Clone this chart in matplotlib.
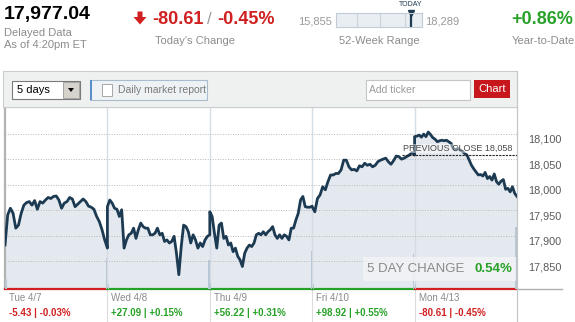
import matplotlib
matplotlib.use('Agg')
import matplotlib.pyplot as plt
import numpy as np
from matplotlib.patches import Rectangle, Polygon

plt.rcParams['font.family'] = ['Liberation Sans', 'DejaVu Sans']

# ---- dados ----
last_price = 17977.04
prev_close = 18058
week52_low = 15855
week52_high = 18289

days = ['Tue 4/7', 'Wed 4/8', 'Thu 4/9', 'Fri 4/10', 'Mon 4/13']
day_change = [-5.43, 27.09, 56.22, 98.92, -80.61]
day_pct = [-0.03, 0.15, 0.31, 0.55, -0.45]

tue = [17882, 17941, 17954, 17944, 17915, 17921, 17944, 17960, 17965, 17967,
       17960, 17969, 17952, 17967, 17964, 17970, 17975, 17973, 17977, 17978,
       17970, 17954, 17964, 17967, 17975, 17972, 17957, 17962, 17967, 17972,
       17967, 17958, 17956, 17952, 17938, 17928, 17912, 17892, 17876]
wed = [17957, 17970, 17964, 17954, 17952, 17938, 17951, 17876, 17892, 17902,
       17905, 17915, 17895, 17912, 17925, 17918, 17915, 17915, 17902, 17902,
       17905, 17915, 17902, 17905, 17889, 17892, 17886, 17889, 17899, 17866,
       17824, 17879, 17921, 17918, 17908, 17886, 17902, 17892, 17876, 17886,
       17879, 17892, 17899, 17902]
thu = [17947, 17938, 17905, 17876, 17921, 17925, 17895, 17899, 17882, 17886,
       17869, 17876, 17860, 17853, 17840, 17866, 17876, 17882, 17879, 17886,
       17902, 17905, 17902, 17908, 17902, 17908, 17912, 17918, 17902, 17895,
       17902, 17895, 17902, 17899, 17892, 17915, 17915, 17931, 17944, 17970,
       17977, 17957, 17956, 17956, 17958]
fri = [17957, 17947, 17973, 17980, 17996, 17990, 18006, 18019, 18019, 18022,
       18022, 18029, 18048, 18048, 18035, 18029, 18030, 18027, 18037, 18035,
       18042, 18038, 18040, 18035, 18038, 18045, 18048, 18050, 18052, 18045,
       18040, 18047, 18056, 18055, 18050, 18052, 18055, 18058, 18063, 18058]
mon = [18094, 18095, 18097, 18093, 18099, 18094, 18103, 18098, 18092, 18089,
       18084, 18086, 18087, 18086, 18087, 18084, 18081, 18071, 18068, 18071,
       18068, 18065, 18061, 18058, 18048, 18038, 18031, 18025, 18019, 18020,
       18017, 18024, 18012, 18016, 18009, 18021, 18006, 18001, 18007, 18010,
       17991, 17993, 17986, 17996, 17983, 17977.04]
sessions = [tue, wed, thu, fri, mon]

# volume (milhoes) na abertura e no fechamento de cada dia
vol_open = [1.0, 0.5, 0.6, 0.5, 0.5]
vol_close = [3.1, 2.9, 3.8, 3.5, 6.2]

y_ticks = [17850, 17900, 17950, 18000, 18050, 18100]

W, H = 575, 322
RED = '#d0201f'
GREEN = '#27a127'
NAVY = '#1c3a52'


def fx(x):
    return x / W


def fy(y):
    return 1 - y / H


def box(x0, y0, x1, y1, **kw):
    fig.patches.append(Rectangle((fx(x0), fy(y1)), fx(x1) - fx(x0), fy(y0) - fy(y1),
                                 transform=fig.transFigure, figure=fig, **kw))


def line(xs, ys, **kw):
    fig.add_artist(plt.Line2D([fx(x) for x in xs], [fy(y) for y in ys],
                              transform=fig.transFigure, **kw))


fig = plt.figure(figsize=(W / 100, H / 100), dpi=100)
fig.patch.set_facecolor('white')

# ---- cabecalho ----
fig.text(fx(4), fy(15), '17,977.04', fontsize=14, fontweight='bold', color='black', va='center')
fig.text(fx(3.5), fy(33), 'Delayed Data', fontsize=8, color='#8c8c8c', va='center')
fig.text(fx(3.5), fy(45.5), 'As of 4:20pm ET', fontsize=8, color='#8c8c8c', va='center')

fig.patches.append(Polygon([(fx(137.5), fy(11.5)), (fx(142.5), fy(11.5)), (fx(142.5), fy(17)),
                            (fx(146.5), fy(17)), (fx(140), fy(24.5)), (fx(133.5), fy(17)),
                            (fx(137.5), fy(17))], closed=True, transform=fig.transFigure,
                           facecolor=RED, edgecolor='none'))
fig.text(fx(152), fy(20), '-80.61', fontsize=13, fontweight='bold', color=RED, va='center')
fig.text(fx(207), fy(20), '/', fontsize=12, color='#999999', va='center')
fig.text(fx(217), fy(20), '-0.45%', fontsize=13, fontweight='bold', color=RED, va='center')
fig.text(fx(155), fy(41), "Today's Change", fontsize=8, color='#8c8c8c', va='center')

fig.text(fx(332), fy(21), f'{week52_low:,}', fontsize=8, color='#9a9a9a', va='center', ha='right')
fig.text(fx(425), fy(21), f'{week52_high:,}', fontsize=8, color='#9a9a9a', va='center')
fig.text(fx(379), fy(41), '52-Week Range', fontsize=8, color='#8c8c8c', va='center', ha='center')

ax52 = fig.add_axes([fx(336), fy(27.3), fx(422) - fx(336), fy(13.3) - fy(27.3)])
ax52.set_xlim(week52_low, week52_high)
ax52.set_ylim(0, 1)
ax52.set_facecolor('#e9eef3')
for s in ax52.spines.values():
    s.set_color('#c2ccd6')
ax52.set_xticks([])
ax52.set_yticks([])
for f in [0.245, 0.515, 0.805]:
    ax52.axvline(week52_low + f * (week52_high - week52_low), color='#c9d1da', lw=0.8)
ax52.plot([last_price, last_price], [0.02, 1.05], color=NAVY, lw=1.6, clip_on=False,
          solid_capstyle='butt')
ax52.plot([last_price], [1.0], marker='v', color=NAVY, markersize=4.5, clip_on=False)
ax52.annotate('TODAY', xy=(last_price, 1), xycoords=('data', 'axes fraction'),
              xytext=(0, 9), textcoords='offset pixels', ha='center', va='center',
              fontsize=5, color=NAVY)

fig.text(fx(511), fy(19.5), '+0.86%', fontsize=13, fontweight='bold', color=GREEN, va='center')
fig.text(fx(512), fy(41), 'Year-to-Date', fontsize=8, color='#8c8c8c', va='center')

# ---- barra de ferramentas ----
box(3, 71, 517, 107, facecolor='#eff1f1', edgecolor='#c9cdcd', lw=0.8)
box(12, 81, 80, 99, facecolor='white', edgecolor='#7a7a7a', lw=0.8)
box(63, 82.5, 79, 97.5, facecolor='#d6d3cc', edgecolor='#9a9a9a', lw=0.6)
fig.patches.append(Polygon([(fx(68), fy(88)), (fx(74), fy(88)), (fx(71), fy(92))], closed=True,
                           transform=fig.transFigure, facecolor='black', edgecolor='none'))
fig.text(fx(17), fy(90), '5 days', fontsize=8, color='black', va='center')

box(90, 80, 207, 100, facecolor='#eef2f5', edgecolor='#a9bccd', lw=0.8)
box(90, 80, 92, 100, facecolor='#5b8fc7', edgecolor='none')
box(102, 84, 112, 96, facecolor='white', edgecolor='#9a9a9a', lw=0.6)
fig.text(fx(118), fy(90), 'Daily market report', fontsize=7.5, color='#7a7a7a', va='center')

box(366, 80, 470, 100, facecolor='white', edgecolor='#c4c4c4', lw=0.8)
fig.text(fx(369), fy(90.5), 'Add ticker', fontsize=7.5, color='#9a9a9a', va='center')
box(474, 80, 510, 98, facecolor='#c8161d', edgecolor='none')
fig.text(fx(492), fy(89), 'Chart', fontsize=8, color='white', va='center', ha='center')

# ---- grafico ----
ax = fig.add_axes([fx(5), fy(289), fx(517) - fx(5), fy(107) - fy(289)])
ymin, ymax = 17796, 18152
ax.set_xlim(0, len(sessions))
ax.set_ylim(ymin, ymax)

xs = np.concatenate([i + np.linspace(0, 1, len(p)) for i, p in enumerate(sessions)])
ps = np.concatenate(sessions)
ax.fill_between(xs, ps, ymin, color='#e4e9ef', lw=0, zorder=1)
ax.plot(xs, ps, color=NAVY, lw=2.0, zorder=3, solid_joinstyle='round')

axv = ax.twinx()
axv.set_ylim(0, 18.2)
axv.bar(np.arange(len(days)) + 0.01, vol_open, width=0.012, color='#b9c6d3', zorder=2)
axv.bar(np.arange(len(days)) + 0.992, vol_close, width=0.014, color='#b9c6d3', zorder=2)
axv.axis('off')

ax.set_yticks(y_ticks)
ax.set_xticks(range(1, len(days)))
ax.set_axisbelow(False)
ax.yaxis.grid(True, linestyle=(0, (1, 1.6)), color='#b8b8b8', lw=0.7)
ax.xaxis.grid(True, linestyle='-', color='#d4dce4', lw=1)
ax.tick_params(length=0, labelleft=False, labelbottom=False, labelright=False)
for side in ['top', 'right', 'left', 'bottom']:
    ax.spines[side].set_color('#c6c6c6')
ax.spines['left'].set_linewidth(1.6)
ax.spines['left'].set_color('#b2b2b2')
ax.spines['bottom'].set_visible(False)

for v in y_ticks:
    ax.annotate(f'{v:,}', xy=(1, v), xycoords=('axes fraction', 'data'),
                xytext=(11, -6), textcoords='offset pixels', va='center', ha='left',
                fontsize=7.8, color='#5a5a5a')

# fechamento anterior
ax.plot([3.88, len(days)], [prev_close, prev_close], color='#222222', lw=0.8,
        linestyle=(0, (2, 1)), zorder=4)
ax.annotate(f'PREVIOUS CLOSE {prev_close:,}', xy=(len(days), prev_close),
            xytext=(-5, 2), textcoords='offset pixels', ha='right', va='bottom',
            fontsize=6.5, color='#4a4a4a', zorder=5,
            bbox=dict(boxstyle='square,pad=0', facecolor='white', alpha=0.45, edgecolor='none'))

# caixa de variacao de 5 dias
axv.add_patch(Rectangle((0.699, 0.044), 0.299, 0.132, transform=ax.transAxes,
                        facecolor='#f1f3f5', alpha=0.85, edgecolor='none', zorder=6))
axv.text(0.707, 0.11, '5 DAY CHANGE', transform=ax.transAxes, fontsize=9.5,
         color='#8a8a8a', va='center', ha='left', zorder=7)
axv.text(0.990, 0.11, '0.54%', transform=ax.transAxes, fontsize=9.5, fontweight='bold',
         color=GREEN, va='center', ha='right', zorder=7)

# linha base colorida e rotulos dos dias
xt = ax.get_xaxis_transform()
for i, name in enumerate(days):
    col = RED if day_change[i] < 0 else GREEN
    ax.plot([i, i + 1], [0, 0], transform=xt, color=col, lw=1.6, clip_on=False, zorder=6)
    ax.plot([i + 1, i + 1], [0, -33 / 182], transform=xt, color='#dcdcdc', lw=0.8,
            clip_on=False)
    ax.annotate(name, xy=(i, 0), xycoords=xt, xytext=(4, -9), textcoords='offset pixels',
                va='center', ha='left', fontsize=7, color='#8a8a8a')
    ax.annotate(f'{day_change[i]:+.2f} | {day_pct[i]:+.2f}%', xy=(i, 0), xycoords=xt,
                xytext=(4, -24), textcoords='offset pixels', va='center', ha='left',
                fontsize=7, fontweight='bold', color=col)

line([517, 562], [289, 289], color='#b0b0b0', lw=1)
line([517, 517], [71, 322], color='#c6c6c6', lw=0.8)

fig.savefig('out.png', dpi=100)
